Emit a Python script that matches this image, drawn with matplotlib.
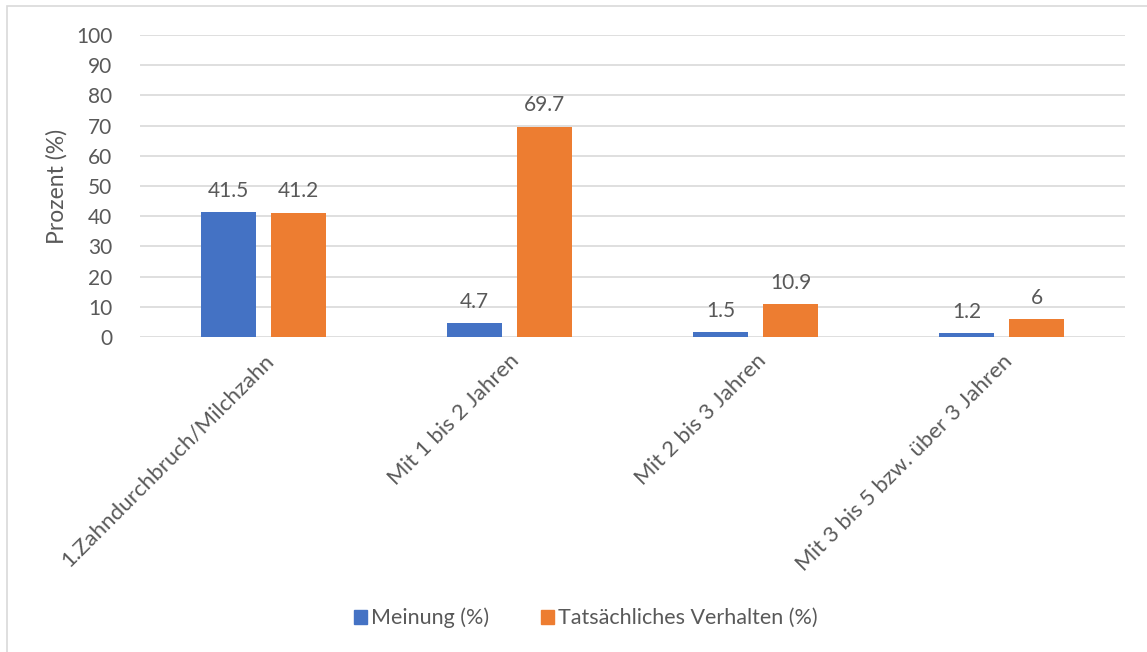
import numpy as np
import matplotlib.pyplot as plt
import matplotlib.patches as mpatches

# data
categories = ["1.Zahndurchbruch/Milchzahn", "Mit 1 bis 2 Jahren",
              "Mit 2 bis 3 Jahren", "Mit 3 bis 5 bzw. über 3 Jahren"]
meinung = [41.5, 4.7, 1.5, 1.2]
verhalten = [41.2, 69.7, 10.9, 6]
meinung_labels = ["41.5", "4.7", "1.5", "1.2"]
verhalten_labels = ["41.2", "69.7", "10.9", "6"]
yticks = [0, 10, 20, 30, 40, 50, 60, 70, 80, 90, 100]

plt.rcParams['font.family'] = ['Lato', 'DejaVu Sans']
txt = '#595959'
blue = '#4472C4'
orange = '#ED7D31'

fig = plt.figure(figsize=(11.47, 6.52), dpi=100)
ax = fig.add_axes([140/1147, 1-337/652, 985/1147, 302/652])

# light frame round the chart
frame = mpatches.Rectangle((7/1147, -0.1), 1.2, 1-6/652+0.1, transform=fig.transFigure,
                           fill=False, edgecolor='#d9d9d9', linewidth=1.2)
fig.patches.append(frame)

x = np.arange(len(categories))
w = 0.224
b1 = ax.bar(x - 0.142, meinung, w, color=blue, zorder=3)
b2 = ax.bar(x + 0.142, verhalten, w, color=orange, zorder=3)

for bars, labs in ((b1, meinung_labels), (b2, verhalten_labels)):
    for bar, lab in zip(bars, labs):
        ax.annotate(lab, (bar.get_x() + bar.get_width()/2, bar.get_height()),
                    xytext=(0, 8), textcoords='offset points', ha='center', va='bottom',
                    fontsize=15, color=txt)

ax.set_ylim(0, 100)
ax.set_xlim(-0.5, len(categories) - 0.5)
ax.set_yticks(yticks)
ax.grid(axis='y', color='#d9d9d9', linewidth=1.2, zorder=0)
for s in ax.spines.values():
    s.set_visible(False)
ax.tick_params(axis='both', length=0, labelsize=15, colors=txt)
ax.tick_params(axis='y', pad=20)
ax.set_xticks(x)
ax.set_xticklabels(categories, rotation=45, ha='right', rotation_mode='anchor', fontsize=16)
ax.tick_params(axis='x', pad=10)
ax.set_ylabel("Prozent (%)", fontsize=16.5, color=txt, labelpad=6)

handles = [mpatches.Patch(color=blue, label='Meinung (%)'),
           mpatches.Patch(color=orange, label='Tatsächliches Verhalten (%)')]
fig.legend(handles=handles, loc='center', bbox_to_anchor=(586/1147, 1-618/652),
           ncol=2, frameon=False, fontsize=15.5, handlelength=0.6, handleheight=0.6,
           handletextpad=0.2, columnspacing=2.4, labelcolor=txt)

fig.savefig('out.png', dpi=100)
